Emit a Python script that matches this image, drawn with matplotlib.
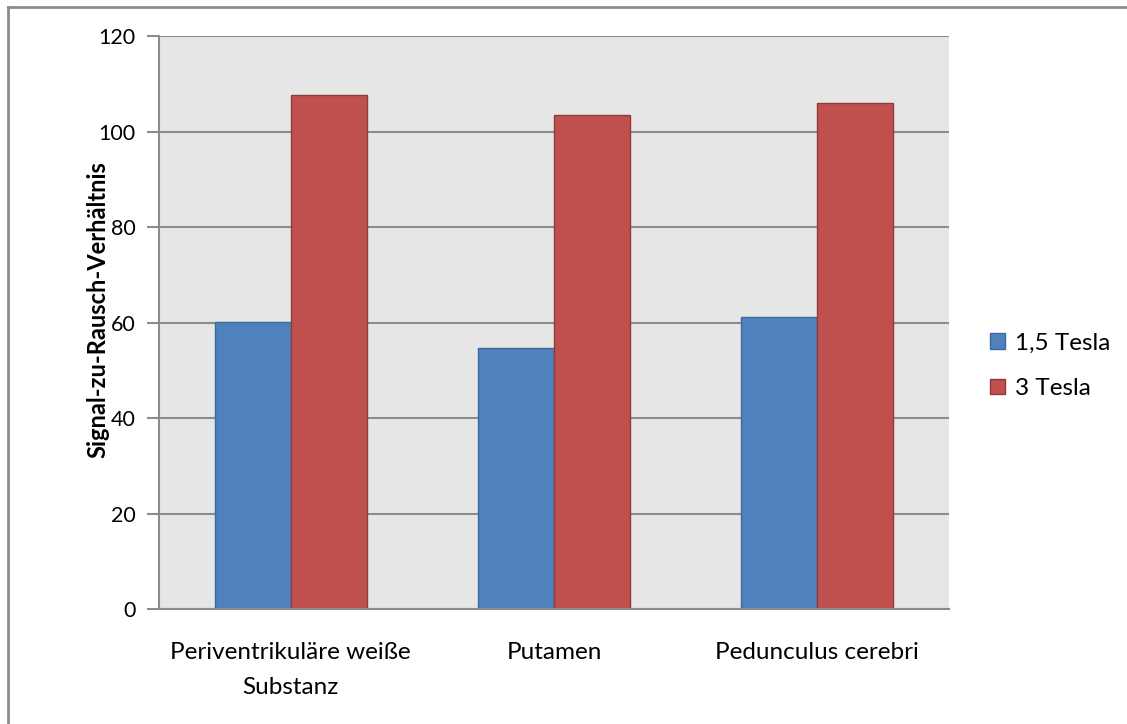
import matplotlib
matplotlib.use('Agg')
import matplotlib.pyplot as plt
from matplotlib.lines import Line2D
import numpy as np

# data
categories = ['Periventrikuläre weiße\nSubstanz', 'Putamen', 'Pedunculus cerebri']
tesla_15 = [60.2, 54.6, 61.1]
tesla_3 = [107.6, 103.5, 106.0]
series_names = ['1,5 Tesla', '3 Tesla']
y_ticks = [0, 20, 40, 60, 80, 100, 120]

plt.rcParams['font.family'] = ['Lato', 'DejaVu Sans']

fig = plt.figure(figsize=(11.27, 7.24), dpi=100)
ax = fig.add_axes([159 / 1127, 1 - 609 / 724, 790 / 1127, 573 / 724])

x = np.arange(len(categories))
w = 0.289
b1 = ax.bar(x - w / 2, tesla_15, w, color='#4F81BD', edgecolor='#3C6A9E', linewidth=1, zorder=3,
            label=series_names[0])
b2 = ax.bar(x + w / 2, tesla_3, w, color='#C0504D', edgecolor='#8E3B39', linewidth=1, zorder=3,
            label=series_names[1])

ax.set_facecolor('#E6E6E6')
ax.set_xlim(-0.5, len(categories) - 0.5)
ax.set_ylim(0, 120)
ax.set_yticks(y_ticks)
ax.set_yticklabels([str(t) for t in y_ticks], fontsize=15.5)
ax.yaxis.grid(True, color='#8C8C8C', linewidth=1.5, zorder=1)
ax.set_axisbelow(True)

ax.set_xticks(x)
ax.set_xticklabels(categories, fontsize=17.5, linespacing=1.8)
ax.tick_params(axis='x', length=0, pad=24)
ax.tick_params(axis='y', length=9, width=1.5, color='#8C8C8C', pad=8)

for s in ['top', 'right']:
    ax.spines[s].set_visible(False)
for s in ['left', 'bottom']:
    ax.spines[s].set_color('#8C8C8C')
    ax.spines[s].set_linewidth(1.5)
ax.spines['bottom'].set_zorder(4)

ax.set_ylabel('Signal-zu-Rausch-Verhältnis', fontsize=17, fontweight='bold')
ax.yaxis.set_label_coords(-50 / 790, 0.522)

leg = fig.legend(handles=[b1, b2], loc='center left', bbox_to_anchor=(968 / 1127, 1 - 366 / 724),
                 frameon=False, fontsize=17.5, handlelength=0.62, handleheight=0.62,
                 handletextpad=0.4, labelspacing=1.0)

# outer chart frame (only top and left edges are visible)
fig.add_artist(Line2D([8 / 1127, 8 / 1127], [0, 1 - 7 / 724], transform=fig.transFigure,
                      color='#8C8C8C', linewidth=2))
fig.add_artist(Line2D([8 / 1127, 1], [1 - 7 / 724, 1 - 7 / 724], transform=fig.transFigure,
                      color='#8C8C8C', linewidth=2))

fig.savefig('out.png', dpi=100)
